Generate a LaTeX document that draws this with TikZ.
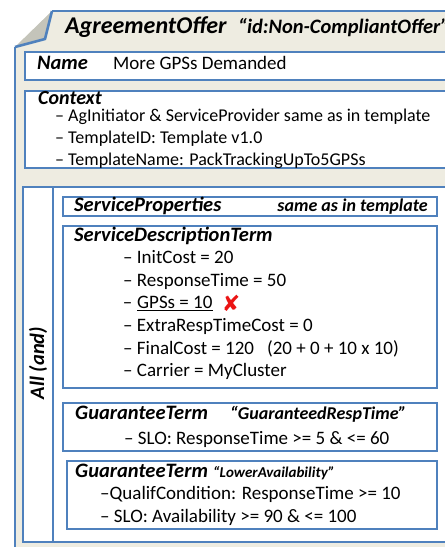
\documentclass[tikz,border=0pt]{standalone}
\usepackage{fontspec}
\setmainfont{Carlito}
\newfontfamily\symfont{DejaVu Sans}
\definecolor{frameblue}{RGB}{79,129,189}
\definecolor{paper}{RGB}{238,236,225}
\definecolor{foldgray}{RGB}{196,196,186}
\definecolor{xred}{RGB}{235,20,20}
\begin{document}
\begin{tikzpicture}[x=1pt,y=-1pt,
  frame/.style={draw=frameblue, line width=2.6pt},
  box/.style={draw=frameblue, line width=2pt, fill=white},
  lbl/.style={font=\fontsize{20.5}{24}\selectfont\bfseries\itshape, anchor=base west, inner sep=0pt},
  sublbl/.style={font=\fontsize{18}{21}\selectfont\bfseries\itshape, anchor=base west, inner sep=0pt},
  txt/.style={font=\fontsize{19}{22}\selectfont, anchor=base west, inner sep=0pt},
  ctxtxt/.style={font=\fontsize{18}{21}\selectfont, anchor=base west, inner sep=0pt}]
\useasboundingbox (0,0) rectangle (445,547);
\clip (0,0) rectangle (445,547);
% outer document shape
\fill[paper] (52,11) -- (480,11) -- (480,580) -- (15,580) -- (15,47) -- cycle;
\draw[frame] (52,11) -- (480,11);
\draw[frame] (15,47) -- (15,580);
\fill[foldgray] (52,11) -- (45,39) -- (15,47) -- cycle;
\draw[frame, line join=round] (52,11) -- (45,39) -- (15,47);
% title
\node[lbl, font=\fontsize{24}{28}\selectfont\bfseries\itshape] (title) at (65,33) {AgreementOffer};
\node[lbl, font=\fontsize{20.5}{24}\selectfont\bfseries\itshape] (titleid) at (238,33) {“id:Non-CompliantOffer”};
% Name
\draw[box] (25,52) rectangle (480,80);
\node[lbl] (name) at (37,69) {Name};
\node[txt] (nameval) at (113,69) {More GPSs Demanded};
% Context
\draw[box] (25,91) rectangle (480,168);
\node[lbl, font=\fontsize{20}{24}\selectfont\bfseries\itshape] (ctx) at (38,104) {Context};
\node[ctxtxt] (ctx1) at (55,121) {– AgInitiator \& ServiceProvider same as in template};
\node[ctxtxt] (ctx2) at (55,143.5) {– TemplateID: Template v1.0};
\node[ctxtxt] (ctx3) at (55,165) {– TemplateName: PackTrackingUpTo5GPSs};
% All (and)
\draw[box] (23,187) rectangle (480,542);
\draw[draw=frameblue, line width=2pt] (53,187) -- (53,542);
\node[lbl, rotate=90, anchor=center] (all) at (38,363) {All (and)};
% ServiceProperties
\draw[box] (63,197) rectangle (437,216);
\node[lbl] (sp) at (74,211.5) {ServiceProperties};
\node[sublbl, anchor=base east] (spsame) at (428,211.5) {same as in template};
% ServiceDescriptionTerm
\draw[box] (63,226) rectangle (437,388);
\node[lbl] (sdt) at (74,241.5) {ServiceDescriptionTerm};
\node[txt] (i1) at (123,263.5) {– InitCost = 20};
\node[txt] (i2) at (123,286) {– ResponseTime = 50};
\node[txt] (i3) at (137,308.5) {GPSs = 10};
\node[txt, anchor=base east] (i3d) at ([xshift=-4.5pt]i3.base west) {–};
\draw[line width=1.3pt] ([yshift=-2.2pt]i3.base west) -- ([yshift=-2.2pt]i3.base east);
\node[font=\symfont\bfseries\fontsize{22}{24}\selectfont, text=xred, inner sep=0pt] (cross) at (231,303) {✘};
\node[txt] (i4) at (123,331) {– ExtraRespTimeCost = 0};
\node[txt] (i5) at (123,354) {– FinalCost = 120 \ \ (20 + 0 + 10 x 10)};
\node[txt] (i6) at (123,376.5) {– Carrier = MyCluster};
% GuaranteeTerm 1
\draw[box] (63,403) rectangle (437,451);
\node[lbl] (gt1) at (75,419) {GuaranteeTerm};
\node[sublbl] (gt1n) at (230,419) {“GuaranteedRespTime”};
\node[txt] (gt1s) at (124,444) {– SLO: ResponseTime >= 5 \& <= 60};
% GuaranteeTerm 2
\draw[box] (67,461) rectangle (437,529);
\node[lbl] (gt2) at (75,477) {GuaranteeTerm};
\node[sublbl, font=\fontsize{15}{18}\selectfont\bfseries\itshape] (gt2n) at (213,477) {“LowerAvailability”};
\node[txt] (gt2q) at (100,499) {–QualifCondition: ResponseTime >= 10};
\node[txt] (gt2s) at (100,522) {– SLO: Availability >= 90 \& <= 100};
\end{tikzpicture}
\end{document}
